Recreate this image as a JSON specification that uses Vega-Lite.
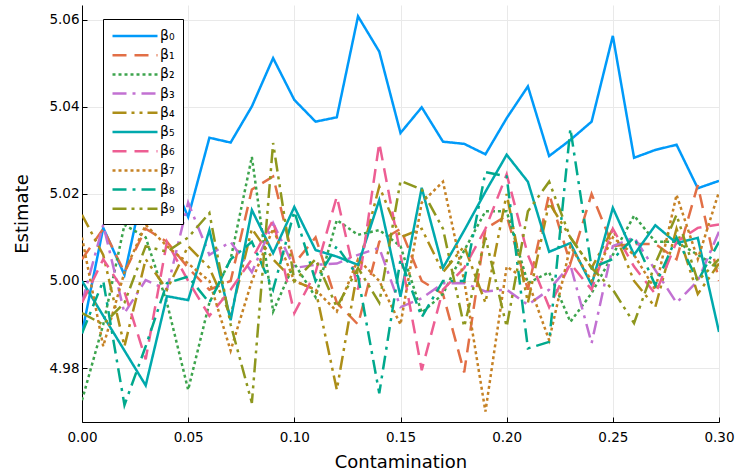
{
  "$schema": "https://vega.github.io/schema/vega-lite/v6.json",
  "autosize": "none",
  "width": 637,
  "height": 417,
  "padding": {"left": 82, "top": 5, "right": 17, "bottom": 51},
  "background": "white",
  "config": {
    "view": {"stroke": null},
    "font": "DejaVu Sans",
    "axis": {
      "domainColor": "black", "domainWidth": 1,
      "tickColor": "black", "tickSize": -5, "tickWidth": 1,
      "gridColor": "#e9e9e9", "gridWidth": 1,
      "labelFont": "DejaVu Sans", "labelFontSize": 13.5, "labelColor": "black",
      "titleFont": "DejaVu Sans", "titleFontSize": 18, "titleFontWeight": "normal", "titleColor": "black"
    }
  },
  "data": {"values": [
{"c":0.00,"s":"β₀","v":4.988},{"c":0.01,"s":"β₀","v":5.0122},{"c":0.02,"s":"β₀","v":5.0014},{"c":0.03,"s":"β₀","v":5.024},{"c":0.04,"s":"β₀","v":5.026},{"c":0.05,"s":"β₀","v":5.0147},{"c":0.06,"s":"β₀","v":5.0329},{"c":0.07,"s":"β₀","v":5.0318},{"c":0.08,"s":"β₀","v":5.0401},{"c":0.09,"s":"β₀","v":5.0512},{"c":0.10,"s":"β₀","v":5.0416},{"c":0.11,"s":"β₀","v":5.0366},{"c":0.12,"s":"β₀","v":5.0376},{"c":0.13,"s":"β₀","v":5.0608},{"c":0.14,"s":"β₀","v":5.0527},{"c":0.15,"s":"β₀","v":5.034},{"c":0.16,"s":"β₀","v":5.0399},{"c":0.17,"s":"β₀","v":5.032},{"c":0.18,"s":"β₀","v":5.0315},{"c":0.19,"s":"β₀","v":5.0291},{"c":0.20,"s":"β₀","v":5.0374},{"c":0.21,"s":"β₀","v":5.0447},{"c":0.22,"s":"β₀","v":5.0287},{"c":0.23,"s":"β₀","v":5.0324},{"c":0.24,"s":"β₀","v":5.0366},{"c":0.25,"s":"β₀","v":5.0563},{"c":0.26,"s":"β₀","v":5.0283},{"c":0.27,"s":"β₀","v":5.0301},{"c":0.28,"s":"β₀","v":5.0313},{"c":0.29,"s":"β₀","v":5.0213},{"c":0.30,"s":"β₀","v":5.023},
{"c":0.00,"s":"β₁","v":5.005},{"c":0.01,"s":"β₁","v":5.012},{"c":0.02,"s":"β₁","v":5.002},{"c":0.03,"s":"β₁","v":5.012},{"c":0.04,"s":"β₁","v":5.009},{"c":0.05,"s":"β₁","v":5.003},{"c":0.06,"s":"β₁","v":4.998},{"c":0.07,"s":"β₁","v":5.000},{"c":0.08,"s":"β₁","v":5.021},{"c":0.09,"s":"β₁","v":5.024},{"c":0.10,"s":"β₁","v":5.004},{"c":0.11,"s":"β₁","v":5.010},{"c":0.12,"s":"β₁","v":4.995},{"c":0.13,"s":"β₁","v":4.990},{"c":0.14,"s":"β₁","v":5.009},{"c":0.15,"s":"β₁","v":5.012},{"c":0.16,"s":"β₁","v":5.000},{"c":0.17,"s":"β₁","v":4.997},{"c":0.18,"s":"β₁","v":4.979},{"c":0.19,"s":"β₁","v":5.012},{"c":0.20,"s":"β₁","v":5.015},{"c":0.21,"s":"β₁","v":4.998},{"c":0.22,"s":"β₁","v":5.020},{"c":0.23,"s":"β₁","v":5.004},{"c":0.24,"s":"β₁","v":5.020},{"c":0.25,"s":"β₁","v":5.008},{"c":0.26,"s":"β₁","v":5.0085},{"c":0.27,"s":"β₁","v":5.0085},{"c":0.28,"s":"β₁","v":5.005},{"c":0.29,"s":"β₁","v":5.022},{"c":0.30,"s":"β₁","v":5.000},
{"c":0.00,"s":"β₂","v":4.9726},{"c":0.01,"s":"β₂","v":4.990},{"c":0.02,"s":"β₂","v":5.0129},{"c":0.03,"s":"β₂","v":5.010},{"c":0.04,"s":"β₂","v":4.995},{"c":0.05,"s":"β₂","v":4.975},{"c":0.06,"s":"β₂","v":4.995},{"c":0.07,"s":"β₂","v":5.005},{"c":0.08,"s":"β₂","v":5.0285},{"c":0.09,"s":"β₂","v":4.993},{"c":0.10,"s":"β₂","v":5.004},{"c":0.11,"s":"β₂","v":4.9963},{"c":0.12,"s":"β₂","v":5.014},{"c":0.13,"s":"β₂","v":5.0106},{"c":0.14,"s":"β₂","v":5.0117},{"c":0.15,"s":"β₂","v":5.008},{"c":0.16,"s":"β₂","v":4.9927},{"c":0.17,"s":"β₂","v":4.997},{"c":0.18,"s":"β₂","v":5.007},{"c":0.19,"s":"β₂","v":5.016},{"c":0.20,"s":"β₂","v":5.016},{"c":0.21,"s":"β₂","v":4.9995},{"c":0.22,"s":"β₂","v":5.002},{"c":0.23,"s":"β₂","v":4.9906},{"c":0.24,"s":"β₂","v":4.9972},{"c":0.25,"s":"β₂","v":5.006},{"c":0.26,"s":"β₂","v":5.015},{"c":0.27,"s":"β₂","v":5.009},{"c":0.28,"s":"β₂","v":5.009},{"c":0.29,"s":"β₂","v":5.006},{"c":0.30,"s":"β₂","v":5.003},
{"c":0.00,"s":"β₃","v":4.995},{"c":0.01,"s":"β₃","v":5.0129},{"c":0.02,"s":"β₃","v":4.9926},{"c":0.03,"s":"β₃","v":5.0002},{"c":0.04,"s":"β₃","v":4.998},{"c":0.05,"s":"β₃","v":5.018},{"c":0.06,"s":"β₃","v":5.006},{"c":0.07,"s":"β₃","v":5.009},{"c":0.08,"s":"β₃","v":5.002},{"c":0.09,"s":"β₃","v":5.0133},{"c":0.10,"s":"β₃","v":5.003},{"c":0.11,"s":"β₃","v":5.0037},{"c":0.12,"s":"β₃","v":5.004},{"c":0.13,"s":"β₃","v":5.006},{"c":0.14,"s":"β₃","v":5.0076},{"c":0.15,"s":"β₃","v":4.994},{"c":0.16,"s":"β₃","v":4.996},{"c":0.17,"s":"β₃","v":4.9995},{"c":0.18,"s":"β₃","v":4.9995},{"c":0.19,"s":"β₃","v":4.9976},{"c":0.20,"s":"β₃","v":4.998},{"c":0.21,"s":"β₃","v":4.9945},{"c":0.22,"s":"β₃","v":4.998},{"c":0.23,"s":"β₃","v":5.0037},{"c":0.24,"s":"β₃","v":4.9857},{"c":0.25,"s":"β₃","v":5.008},{"c":0.26,"s":"β₃","v":5.010},{"c":0.27,"s":"β₃","v":5.0025},{"c":0.28,"s":"β₃","v":4.995},{"c":0.29,"s":"β₃","v":5.000},{"c":0.30,"s":"β₃","v":5.0113},
{"c":0.00,"s":"β₄","v":5.0152},{"c":0.01,"s":"β₄","v":5.006},{"c":0.02,"s":"β₄","v":4.985},{"c":0.03,"s":"β₄","v":5.005},{"c":0.04,"s":"β₄","v":4.998},{"c":0.05,"s":"β₄","v":5.008},{"c":0.06,"s":"β₄","v":5.003},{"c":0.07,"s":"β₄","v":4.992},{"c":0.08,"s":"β₄","v":5.012},{"c":0.09,"s":"β₄","v":5.005},{"c":0.10,"s":"β₄","v":5.000},{"c":0.11,"s":"β₄","v":4.998},{"c":0.12,"s":"β₄","v":4.975},{"c":0.13,"s":"β₄","v":5.003},{"c":0.14,"s":"β₄","v":5.0217},{"c":0.15,"s":"β₄","v":5.010},{"c":0.16,"s":"β₄","v":5.012},{"c":0.17,"s":"β₄","v":5.002},{"c":0.18,"s":"β₄","v":5.008},{"c":0.19,"s":"β₄","v":4.995},{"c":0.20,"s":"β₄","v":5.020},{"c":0.21,"s":"β₄","v":4.995},{"c":0.22,"s":"β₄","v":5.018},{"c":0.23,"s":"β₄","v":5.010},{"c":0.24,"s":"β₄","v":5.003},{"c":0.25,"s":"β₄","v":5.012},{"c":0.26,"s":"β₄","v":5.000},{"c":0.27,"s":"β₄","v":4.994},{"c":0.28,"s":"β₄","v":5.012},{"c":0.29,"s":"β₄","v":4.997},{"c":0.30,"s":"β₄","v":5.004},
{"c":0.00,"s":"β₅","v":5.000},{"c":0.01,"s":"β₅","v":4.992},{"c":0.02,"s":"β₅","v":4.984},{"c":0.03,"s":"β₅","v":4.976},{"c":0.04,"s":"β₅","v":4.9965},{"c":0.05,"s":"β₅","v":4.9956},{"c":0.06,"s":"β₅","v":5.0117},{"c":0.07,"s":"β₅","v":4.991},{"c":0.08,"s":"β₅","v":5.0163},{"c":0.09,"s":"β₅","v":5.0064},{"c":0.10,"s":"β₅","v":5.017},{"c":0.11,"s":"β₅","v":5.0071},{"c":0.12,"s":"β₅","v":5.0056},{"c":0.13,"s":"β₅","v":5.0037},{"c":0.14,"s":"β₅","v":5.0186},{"c":0.15,"s":"β₅","v":4.9964},{"c":0.16,"s":"β₅","v":5.0214},{"c":0.17,"s":"β₅","v":5.003},{"c":0.18,"s":"β₅","v":5.0116},{"c":0.19,"s":"β₅","v":5.0205},{"c":0.20,"s":"β₅","v":5.029},{"c":0.21,"s":"β₅","v":5.0228},{"c":0.22,"s":"β₅","v":5.0067},{"c":0.23,"s":"β₅","v":5.0087},{"c":0.24,"s":"β₅","v":4.9991},{"c":0.25,"s":"β₅","v":5.0168},{"c":0.26,"s":"β₅","v":5.006},{"c":0.27,"s":"β₅","v":5.0128},{"c":0.28,"s":"β₅","v":5.0087},{"c":0.29,"s":"β₅","v":5.0099},{"c":0.30,"s":"β₅","v":4.9883},
{"c":0.00,"s":"β₆","v":4.995},{"c":0.01,"s":"β₆","v":5.005},{"c":0.02,"s":"β₆","v":4.9975},{"c":0.03,"s":"β₆","v":4.982},{"c":0.04,"s":"β₆","v":5.009},{"c":0.05,"s":"β₆","v":5.000},{"c":0.06,"s":"β₆","v":4.992},{"c":0.07,"s":"β₆","v":4.998},{"c":0.08,"s":"β₆","v":5.005},{"c":0.09,"s":"β₆","v":5.014},{"c":0.10,"s":"β₆","v":4.9926},{"c":0.11,"s":"β₆","v":5.002},{"c":0.12,"s":"β₆","v":5.0194},{"c":0.13,"s":"β₆","v":4.998},{"c":0.14,"s":"β₆","v":5.0317},{"c":0.15,"s":"β₆","v":5.006},{"c":0.16,"s":"β₆","v":4.9795},{"c":0.17,"s":"β₆","v":4.998},{"c":0.18,"s":"β₆","v":5.003},{"c":0.19,"s":"β₆","v":5.012},{"c":0.20,"s":"β₆","v":5.0245},{"c":0.21,"s":"β₆","v":5.006},{"c":0.22,"s":"β₆","v":4.994},{"c":0.23,"s":"β₆","v":5.004},{"c":0.24,"s":"β₆","v":4.998},{"c":0.25,"s":"β₆","v":5.012},{"c":0.26,"s":"β₆","v":5.0033},{"c":0.27,"s":"β₆","v":4.997},{"c":0.28,"s":"β₆","v":5.009},{"c":0.29,"s":"β₆","v":5.0122},{"c":0.30,"s":"β₆","v":5.013},
{"c":0.00,"s":"β₇","v":5.010},{"c":0.01,"s":"β₇","v":4.985},{"c":0.02,"s":"β₇","v":5.002},{"c":0.03,"s":"β₇","v":5.0129},{"c":0.04,"s":"β₇","v":5.008},{"c":0.05,"s":"β₇","v":5.004},{"c":0.06,"s":"β₇","v":5.000},{"c":0.07,"s":"β₇","v":4.984},{"c":0.08,"s":"β₇","v":5.000},{"c":0.09,"s":"β₇","v":5.012},{"c":0.10,"s":"β₇","v":5.000},{"c":0.11,"s":"β₇","v":4.998},{"c":0.12,"s":"β₇","v":4.993},{"c":0.13,"s":"β₇","v":5.005},{"c":0.14,"s":"β₇","v":5.000},{"c":0.15,"s":"β₇","v":4.990},{"c":0.16,"s":"β₇","v":5.018},{"c":0.17,"s":"β₇","v":5.0228},{"c":0.18,"s":"β₇","v":5.000},{"c":0.19,"s":"β₇","v":4.970},{"c":0.20,"s":"β₇","v":5.0033},{"c":0.21,"s":"β₇","v":5.000},{"c":0.22,"s":"β₇","v":4.9864},{"c":0.23,"s":"β₇","v":5.008},{"c":0.24,"s":"β₇","v":5.000},{"c":0.25,"s":"β₇","v":5.010},{"c":0.26,"s":"β₇","v":5.006},{"c":0.27,"s":"β₇","v":4.998},{"c":0.28,"s":"β₇","v":5.0198},{"c":0.29,"s":"β₇","v":5.005},{"c":0.30,"s":"β₇","v":5.0205},
{"c":0.00,"s":"β₈","v":4.988},{"c":0.01,"s":"β₈","v":5.000},{"c":0.02,"s":"β₈","v":4.9715},{"c":0.03,"s":"β₈","v":4.985},{"c":0.04,"s":"β₈","v":4.9995},{"c":0.05,"s":"β₈","v":5.001},{"c":0.06,"s":"β₈","v":4.995},{"c":0.07,"s":"β₈","v":5.005},{"c":0.08,"s":"β₈","v":5.009},{"c":0.09,"s":"β₈","v":4.998},{"c":0.10,"s":"β₈","v":5.016},{"c":0.11,"s":"β₈","v":5.000},{"c":0.12,"s":"β₈","v":5.008},{"c":0.13,"s":"β₈","v":5.001},{"c":0.14,"s":"β₈","v":4.9742},{"c":0.15,"s":"β₈","v":5.005},{"c":0.16,"s":"β₈","v":4.9917},{"c":0.17,"s":"β₈","v":5.000},{"c":0.18,"s":"β₈","v":5.000},{"c":0.19,"s":"β₈","v":5.025},{"c":0.20,"s":"β₈","v":5.024},{"c":0.21,"s":"β₈","v":4.9845},{"c":0.22,"s":"β₈","v":4.986},{"c":0.23,"s":"β₈","v":5.035},{"c":0.24,"s":"β₈","v":5.003},{"c":0.25,"s":"β₈","v":5.005},{"c":0.26,"s":"β₈","v":5.010},{"c":0.27,"s":"β₈","v":4.999},{"c":0.28,"s":"β₈","v":5.010},{"c":0.29,"s":"β₈","v":5.000},{"c":0.30,"s":"β₈","v":5.009},
{"c":0.00,"s":"β₉","v":4.9926},{"c":0.01,"s":"β₉","v":4.990},{"c":0.02,"s":"β₉","v":4.995},{"c":0.03,"s":"β₉","v":5.008},{"c":0.04,"s":"β₉","v":5.0067},{"c":0.05,"s":"β₉","v":5.010},{"c":0.06,"s":"β₉","v":5.0156},{"c":0.07,"s":"β₉","v":4.990},{"c":0.08,"s":"β₉","v":4.972},{"c":0.09,"s":"β₉","v":5.0317},{"c":0.10,"s":"β₉","v":5.000},{"c":0.11,"s":"β₉","v":5.005},{"c":0.12,"s":"β₉","v":4.994},{"c":0.13,"s":"β₉","v":5.003},{"c":0.14,"s":"β₉","v":4.995},{"c":0.15,"s":"β₉","v":5.023},{"c":0.16,"s":"β₉","v":5.021},{"c":0.17,"s":"β₉","v":5.012},{"c":0.18,"s":"β₉","v":4.9895},{"c":0.19,"s":"β₉","v":5.010},{"c":0.20,"s":"β₉","v":4.9895},{"c":0.21,"s":"β₉","v":5.016},{"c":0.22,"s":"β₉","v":5.0228},{"c":0.23,"s":"β₉","v":5.010},{"c":0.24,"s":"β₉","v":5.003},{"c":0.25,"s":"β₉","v":4.998},{"c":0.26,"s":"β₉","v":4.9903},{"c":0.27,"s":"β₉","v":5.004},{"c":0.28,"s":"β₉","v":5.0152},{"c":0.29,"s":"β₉","v":5.000},{"c":0.30,"s":"β₉","v":5.005}
  ]},
  "mark": {"type": "line", "strokeWidth": 2.5, "clip": true},
  "encoding": {
    "x": {
      "field": "c", "type": "quantitative", "title": "Contamination",
      "scale": {"domain": [0, 0.3], "nice": false, "zero": false},
      "axis": {"values": [0, 0.05, 0.1, 0.15, 0.2, 0.25, 0.3], "format": ".2f", "labelPadding": 13, "titlePadding": 10, "labelFlush": false}
    },
    "y": {
      "field": "v", "type": "quantitative", "title": "Estimate",
      "scale": {"domain": [4.9676, 5.0634], "nice": false, "zero": false},
      "axis": {"values": [4.98, 5.0, 5.02, 5.04, 5.06], "format": ".2f", "labelPadding": 8, "titlePadding": 17}
    },
    "color": {
      "field": "s", "type": "nominal",
      "scale": {
        "domain": ["β₀","β₁","β₂","β₃","β₄","β₅","β₆","β₇","β₈","β₉"],
        "range": ["#009af9","#e26f46","#3da44d","#c271d2","#ac8e18","#00a9ad","#ed5e93","#c68225","#00a98d","#8e971e"]
      },
      "legend": {
        "title": null, "orient": "none", "legendX": 21, "legendY": 14,
        "strokeColor": "black", "fillColor": "white", "padding": 8,
        "symbolType": "M-1,0H5", "symbolSize": 225, "symbolStrokeWidth": 2.5,
        "labelFontSize": 14, "labelFont": "DejaVu Sans", "labelColor": "black",
        "rowPadding": 3.2, "labelOffset": 31, "cornerRadius": 0
      }
    },
    "strokeDash": {
      "field": "s", "type": "nominal",
      "scale": {
        "domain": ["β₀","β₁","β₂","β₃","β₄","β₅","β₆","β₇","β₈","β₉"],
        "range": [[1,0],[14,8],[3,3],[14,6,3,6],[14,5,3,5,3,5],[1,0],[14,8],[3,3],[14,6,3,6],[14,5,3,5,3,5]]
      },
      "legend": null
    }
  }
}
